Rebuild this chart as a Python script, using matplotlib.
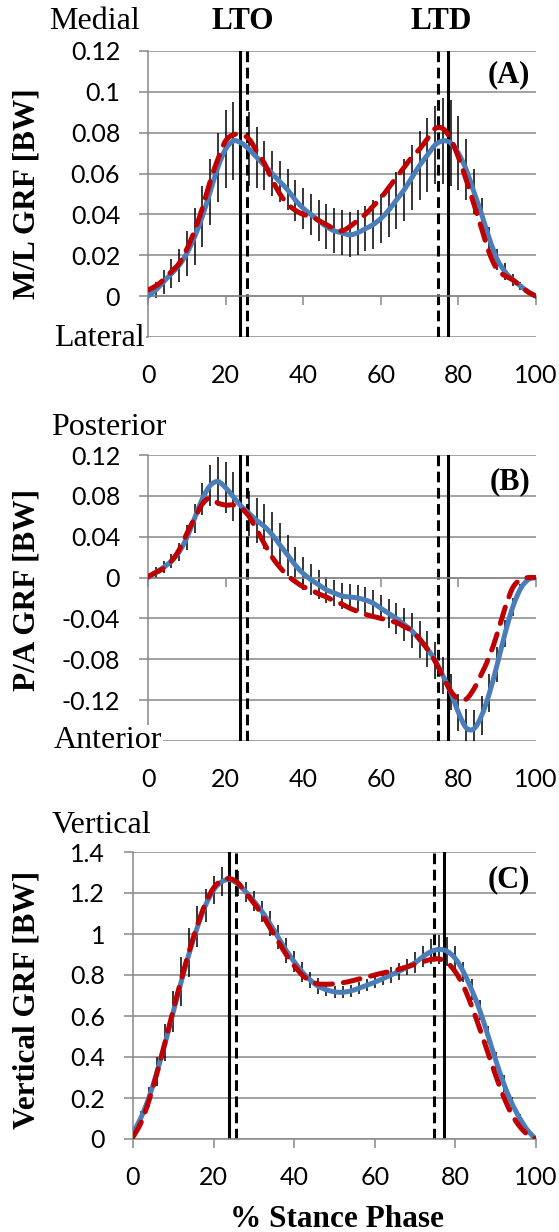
import numpy as np
import matplotlib
matplotlib.use("Agg")
import matplotlib.pyplot as plt
from matplotlib.path import Path
from matplotlib.patches import PathPatch

plt.rcParams['axes.unicode_minus'] = False

# % stance phase, sampled every 2 %
stance = list(range(0, 101, 2))

# (A) medio-lateral GRF [BW]
ml_solid = [0.000, 0.003, 0.007, 0.011, 0.015, 0.021, 0.029, 0.039, 0.051, 0.063,
            0.072, 0.076, 0.075, 0.072, 0.068, 0.064, 0.060, 0.056, 0.052, 0.047,
            0.043, 0.040, 0.037, 0.034, 0.032, 0.031, 0.030, 0.031, 0.033, 0.035,
            0.038, 0.042, 0.047, 0.052, 0.058, 0.064, 0.069, 0.074, 0.076, 0.075,
            0.070, 0.062, 0.051, 0.040, 0.028, 0.018, 0.012, 0.008, 0.005, 0.002,
            0.000]
ml_dashed = [0.003, 0.005, 0.008, 0.012, 0.016, 0.023, 0.032, 0.043, 0.056, 0.067,
             0.076, 0.079, 0.079, 0.077, 0.071, 0.065, 0.057, 0.050, 0.045, 0.042,
             0.040, 0.039, 0.037, 0.035, 0.033, 0.032, 0.034, 0.037, 0.040, 0.044,
             0.048, 0.053, 0.058, 0.063, 0.068, 0.072, 0.077, 0.082, 0.082, 0.077,
             0.068, 0.057, 0.045, 0.033, 0.021, 0.013, 0.010, 0.008, 0.005, 0.002,
             0.000]
ml_sd = [0.002, 0.004, 0.006, 0.007, 0.008, 0.011, 0.014, 0.015, 0.016, 0.017,
         0.019, 0.019, 0.019, 0.018, 0.015, 0.012, 0.011, 0.010, 0.010, 0.010,
         0.010, 0.010, 0.010, 0.011, 0.011, 0.011, 0.011, 0.011, 0.011, 0.012,
         0.012, 0.013, 0.014, 0.015, 0.016, 0.017, 0.018, 0.019, 0.021, 0.021,
         0.018, 0.015, 0.011, 0.008, 0.006, 0.005, 0.004, 0.003, 0.002, 0.001,
         0.000]

# (B) posterior-anterior GRF [BW]
pa_solid = [0.000, 0.005, 0.010, 0.016, 0.025, 0.039, 0.058, 0.077, 0.090, 0.094,
            0.088, 0.079, 0.070, 0.063, 0.056, 0.050, 0.042, 0.032, 0.022, 0.012,
            0.004, -0.002, -0.007, -0.012, -0.015, -0.018, -0.019, -0.020, -0.022, -0.025,
            -0.030, -0.035, -0.040, -0.046, -0.052, -0.061, -0.070, -0.081, -0.096, -0.112,
            -0.132, -0.147, -0.148, -0.135, -0.113, -0.085, -0.055, -0.029, -0.011, -0.002,
            0.000]
pa_dashed = [0.001, 0.005, 0.009, 0.016, 0.027, 0.043, 0.058, 0.072, 0.078, 0.073,
             0.071, 0.071, 0.068, 0.060, 0.047, 0.033, 0.020, 0.010, 0.002, -0.004,
             -0.009, -0.012, -0.016, -0.019, -0.023, -0.026, -0.030, -0.033, -0.036, -0.038,
             -0.040, -0.042, -0.044, -0.048, -0.052, -0.060, -0.070, -0.082, -0.097, -0.111,
             -0.119, -0.119, -0.109, -0.094, -0.077, -0.055, -0.030, -0.010, -0.002, 0.000,
             0.000]
pa_sd = [0.002, 0.005, 0.006, 0.007, 0.009, 0.012, 0.014, 0.016, 0.020, 0.024,
         0.025, 0.024, 0.022, 0.022, 0.022, 0.022, 0.022, 0.021, 0.020, 0.018,
         0.016, 0.015, 0.014, 0.013, 0.013, 0.013, 0.013, 0.013, 0.013, 0.013,
         0.013, 0.014, 0.015, 0.016, 0.017, 0.018, 0.018, 0.018, 0.018, 0.018,
         0.018, 0.018, 0.018, 0.019, 0.019, 0.017, 0.013, 0.009, 0.005, 0.002,
         0.000]

# (C) vertical GRF [BW]
v_solid = [0.030, 0.105, 0.205, 0.330, 0.470, 0.620, 0.770, 0.910, 1.035, 1.140,
           1.215, 1.255, 1.265, 1.245, 1.205, 1.160, 1.110, 1.050, 0.985, 0.920,
           0.865, 0.815, 0.775, 0.745, 0.728, 0.718, 0.716, 0.722, 0.735, 0.750,
           0.765, 0.782, 0.800, 0.818, 0.838, 0.860, 0.890, 0.915, 0.925, 0.915,
           0.880, 0.815, 0.730, 0.630, 0.510, 0.385, 0.270, 0.175, 0.100, 0.040,
           0.000]
v_dashed = [0.010, 0.080, 0.190, 0.325, 0.475, 0.630, 0.780, 0.920, 1.045, 1.150,
            1.225, 1.262, 1.270, 1.250, 1.200, 1.150, 1.095, 1.030, 0.965, 0.900,
            0.845, 0.800, 0.770, 0.757, 0.755, 0.757, 0.762, 0.770, 0.780, 0.790,
            0.800, 0.810, 0.818, 0.828, 0.840, 0.852, 0.865, 0.876, 0.878, 0.860,
            0.815, 0.745, 0.650, 0.540, 0.425, 0.310, 0.205, 0.120, 0.060, 0.020,
            0.000]
v_sd = [0.01, 0.03, 0.05, 0.07, 0.09, 0.10, 0.12, 0.12, 0.10, 0.08,
        0.07, 0.07, 0.07, 0.06, 0.05, 0.05, 0.05, 0.06, 0.06, 0.06,
        0.05, 0.05, 0.04, 0.04, 0.03, 0.03, 0.03, 0.03, 0.03, 0.03,
        0.03, 0.03, 0.04, 0.04, 0.04, 0.05, 0.05, 0.06, 0.07, 0.07,
        0.06, 0.05, 0.05, 0.05, 0.04, 0.04, 0.04, 0.03, 0.02, 0.01,
        0.00]

# gait events (% stance): solid / dashed
events_solid = [23.7, 77.2]
events_dashed = [25.6, 74.8]

xticks = [0, 20, 40, 60, 80, 100]
ml_ticks = [-0.02, 0, 0.02, 0.04, 0.06, 0.08, 0.1, 0.12]
ml_ticklabels = ['', '0', '0.02', '0.04', '0.06', '0.08', '0.1', '0.12']
pa_ticks = [-0.16, -0.12, -0.08, -0.04, 0, 0.04, 0.08, 0.12]
pa_ticklabels = ['', '-0.12', '-0.08', '-0.04', '0', '0.04', '0.08', '0.12']
v_ticks = [0, 0.2, 0.4, 0.6, 0.8, 1.0, 1.2, 1.4]
v_ticklabels = ['0', '0.2', '0.4', '0.6', '0.8', '1', '1.2', '1.4']

BLUE = '#4a7ebb'
RED = '#c00000'
GRID = '#888888'
SERIF = 'Liberation Serif'
SANS = 'Lato'

W, H = 559, 1232


def smooth_path(x, y):
    # Catmull-Rom style bezier through the samples (like a spreadsheet "smoothed line")
    pts = np.column_stack([x, y]).astype(float)
    n = len(pts)
    verts = [pts[0]]
    codes = [Path.MOVETO]
    for i in range(n - 1):
        p0 = pts[max(i - 1, 0)]
        p1 = pts[i]
        p2 = pts[i + 1]
        p3 = pts[min(i + 2, n - 1)]
        verts += [p1 + (p2 - p0) / 6, p2 - (p3 - p1) / 6, p2]
        codes += [Path.CURVE4] * 3
    return Path(verts, codes)


def px_rect(left, top, right, bottom):
    return [left / W, 1 - bottom / H, (right - left) / W, (bottom - top) / H]


def fig_text(fig, x, y, s, **kw):
    fig.text(x / W, 1 - y / H, s, **kw)


def panel(fig, rect, solid, dashed, sd, yticks, yticklabels, ylim, tag, tag_y):
    ax = fig.add_axes(rect)
    ax.set_xlim(0, 100)
    ax.set_ylim(*ylim)

    ax.set_yticks(yticks)
    ax.set_yticklabels(yticklabels, fontfamily=SANS, fontsize=18)
    ax.tick_params(axis='y', length=6.5, width=1.1, color=GRID, pad=13.5)
    ax.yaxis.grid(True, color=GRID, lw=1.1)
    ax.set_axisbelow(True)

    ax.set_xticks(xticks)
    ax.tick_params(axis='x', length=6.5, width=1.1, color=GRID, labelbottom=False)

    for side in ['top', 'right']:
        ax.spines[side].set_visible(False)
    ax.spines['left'].set_color(GRID)
    ax.spines['left'].set_linewidth(1.1)
    ax.spines['bottom'].set_color(GRID)
    ax.spines['bottom'].set_linewidth(1.1)
    ax.spines['bottom'].set_position(('data', 0))

    for v in xticks:
        ax.annotate(str(v), xy=(v, 0), xycoords=('data', 'axes fraction'),
                    xytext=(0, -27.5), textcoords='offset points',
                    ha='center', va='center', fontfamily=SANS, fontsize=18)

    lo = np.array(solid) - np.array(sd)
    hi = np.array(solid) + np.array(sd)
    ax.vlines(stance, lo, hi, colors='black', lw=1.1, zorder=2)

    for e in events_solid:
        ax.axvline(e, color='black', lw=2.2, zorder=2.5)
    for e in events_dashed:
        ax.axvline(e, color='black', lw=2.2, ls=(0, (3.5, 1.8)), zorder=2.5)

    ax.add_patch(PathPatch(smooth_path(stance, solid), fill=False, ec=BLUE,
                           lw=3.6, capstyle='round', joinstyle='round', zorder=3))
    ax.add_patch(PathPatch(smooth_path(stance, dashed), fill=False, ec=RED,
                           lw=3.6, ls=(0, (3.4, 2.2)), capstyle='round',
                           joinstyle='round', zorder=4))

    ax.text(0.985, tag_y, tag, transform=ax.transAxes, ha='right', va='baseline',
            fontfamily=SERIF, fontweight='bold', fontsize=22)
    return ax


fig = plt.figure(figsize=(W / 100, H / 100), dpi=100)

panel(fig, px_rect(148, 51, 536, 337), ml_solid, ml_dashed, ml_sd,
      ml_ticks, ml_ticklabels, (-0.02, 0.12), '(A)', 1 - (82 - 51) / 286)
panel(fig, px_rect(148, 455, 536, 741), pa_solid, pa_dashed, pa_sd,
      pa_ticks, pa_ticklabels, (-0.16, 0.12), '(B)', 1 - (489 - 455) / 286)
panel(fig, px_rect(133, 852, 536, 1139), v_solid, v_dashed, v_sd,
      v_ticks, v_ticklabels, (0, 1.4), '(C)', 1 - (887 - 852) / 287)

serif = dict(fontfamily=SERIF, fontsize=23, va='baseline')
bold = dict(fontfamily=SERIF, fontsize=22.5, fontweight='bold')

fig_text(fig, 140, 29, 'Medial', ha='right', **serif)
fig_text(fig, 145, 346, 'Lateral', ha='right', zorder=5,
         bbox=dict(fc='white', ec='none', pad=0.5), **serif)
fig_text(fig, 51, 435, 'Posterior', ha='left', **serif)
fig_text(fig, 54, 748, 'Anterior', ha='left', zorder=5,
         bbox=dict(fc='white', ec='none', pad=0.5), **serif)
fig_text(fig, 52, 833, 'Vertical', ha='left', **serif)

fig_text(fig, 243, 29, 'LTO', ha='center', va='baseline', **bold)
fig_text(fig, 441, 29, 'LTD', ha='center', va='baseline', **bold)

fig_text(fig, 27, 194, 'M/L GRF [BW]', rotation=90, ha='center', va='center', **bold)
fig_text(fig, 27, 590, 'P/A GRF [BW]', rotation=90, ha='center', va='center', **bold)
fig_text(fig, 27, 1000, 'Vertical GRF [BW]', rotation=90, ha='center', va='center', **bold)
fig_text(fig, 337, 1227, '% Stance Phase', ha='center', va='baseline', **bold)

fig.savefig('out.png', dpi=100)
